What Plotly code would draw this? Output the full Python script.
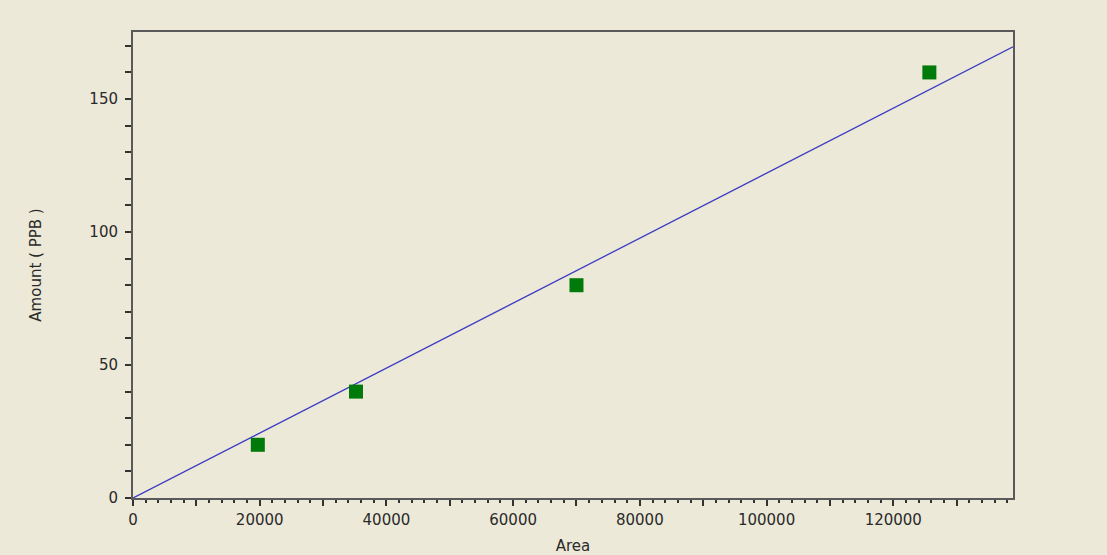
import plotly.graph_objects as go

area = [19700, 35200, 70000, 125700]
amount = [20, 40, 80, 160]
fit_x = [0, 138900]
fit_y = [0, 169.6]
x_tick_vals = list(range(0, 140000, 10000))
x_tick_text = [str(v) if v % 20000 == 0 else "" for v in x_tick_vals]

BG = "#ECE9D8"
AX = "#5a5a5a"
TXT = "#2a2a2a"

fig = go.Figure()
fig.add_trace(go.Scatter(x=fit_x, y=fit_y, mode="lines",
                         line=dict(color="#3b3bc4", width=1.3),
                         showlegend=False, hoverinfo="skip"))
fig.add_trace(go.Scatter(x=area, y=amount, mode="markers",
                         marker=dict(symbol="square", size=14, color="#007a0a",
                                     line=dict(width=0)),
                         showlegend=False))

fig.update_layout(
    width=1107, height=555,
    margin=dict(l=133, r=94, t=32, b=57),
    paper_bgcolor=BG, plot_bgcolor=BG,
    font=dict(family="DejaVu Sans, Verdana, sans-serif", size=15, color=TXT),
    xaxis=dict(range=[0, 138900], tickmode="array", tickvals=x_tick_vals,
               ticktext=x_tick_text, ticks="outside", ticklen=6, tickwidth=1.5,
               tickcolor="#333", showgrid=False, zeroline=False,
               showline=True, linecolor=AX, linewidth=2, mirror=True,
               ticklabelstandoff=1, automargin=False,
               minor=dict(tickmode="linear", tick0=0, dtick=2000, ticks="outside",
                          ticklen=3, tickwidth=1.5, tickcolor="#333", showgrid=False),
               title=dict(text="Area", standoff=12, font=dict(size=15))),
    yaxis=dict(range=[0, 175.2], tickmode="linear", tick0=0, dtick=50,
               ticks="outside", ticklen=6, tickwidth=1.5, tickcolor="#333",
               showgrid=False, zeroline=False,
               showline=True, linecolor=AX, linewidth=2, mirror=True,
               ticklabelstandoff=4, automargin=False,
               minor=dict(tickmode="linear", tick0=0, dtick=10, ticks="outside",
                          ticklen=6, tickwidth=1.5, tickcolor="#333", showgrid=False),
               title=dict(text="Amount ( PPB )", standoff=44, font=dict(size=15))),
)

fig.write_html("out.html")
